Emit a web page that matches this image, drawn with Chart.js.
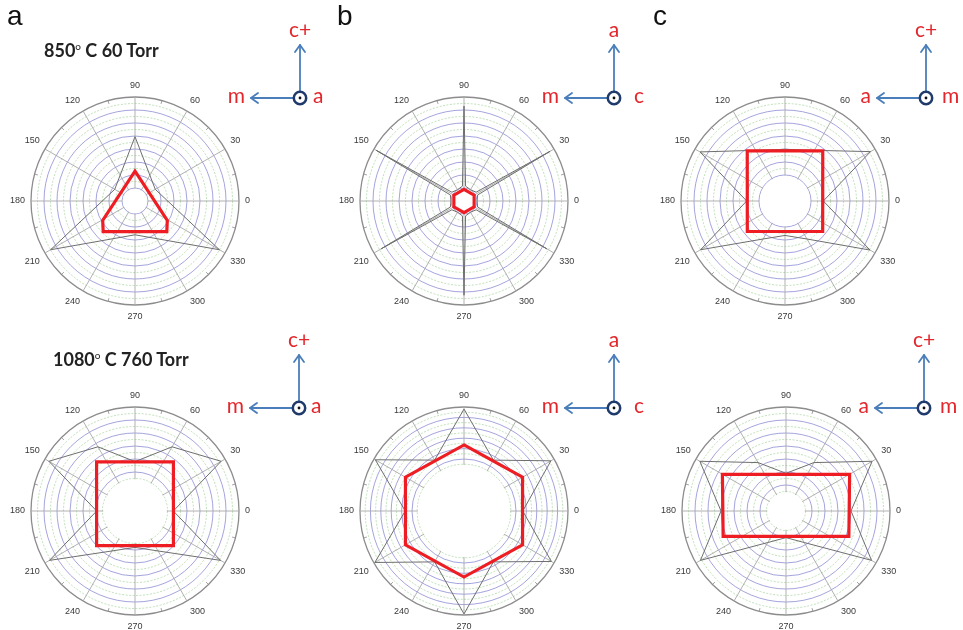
<!DOCTYPE html>
<html>
<head>
<meta charset="utf-8">
<script src="https://cdn.jsdelivr.net/npm/chart.js@4.4.1/dist/chart.umd.min.js"></script>
<style>
  html, body { margin: 0; padding: 0; background: #fff; }
  body { position: relative; width: 963px; height: 630px; overflow: hidden; }
  canvas.polar { position: absolute; }
  svg#overlay { position: absolute; left: 0; top: 0; z-index: 5; }
</style>
</head>
<body>
<svg id="overlay" width="963" height="630" xmlns="http://www.w3.org/2000/svg">
  <g font-family="'Liberation Sans', Arial, sans-serif" font-size="28" fill="#111">
    <text x="7" y="25">a</text>
    <text x="337" y="25">b</text>
    <text x="653" y="25">c</text>
  </g>
  <g font-family="Lato, 'Open Sans', sans-serif" font-size="18" font-weight="700" fill="#222">
    <text x="44" y="57">850<tspan dy="-7" font-size="10" font-weight="400">o</tspan><tspan dy="7"> C 60 Torr</tspan></text>
    <text x="53" y="366">1080<tspan dy="-7" font-size="10" font-weight="400">o</tspan><tspan dy="7"> C 760 Torr</tspan></text>
  </g>
  <g id="keys"></g>
</svg>

<script>
// ---- angular grid: one slot per degree, labelled every 30 degrees ----
const DEGREES = 360;
const angleTickStep = 30;

// ---- row 1: 850 C, 60 Torr ----
// (a) c+ up, m left, a out of plane
const gammaA850Angles = [90, 150, 210, 270, 330, 30];
const gammaA850Radii  = [9.9, 3.6, 15.0, 5.2, 15.0, 3.6];
const shapeA850Angles = [90, 211, 224, 316, 329];
const shapeA850Radii  = [4.6, 5.8, 6.8, 6.8, 5.8];

// (b) a up, m left, c out of plane
const gammaB850Angles = [0, 24, 30, 36, 60, 84, 90, 96, 120, 144, 150, 156,
                         180, 204, 210, 216, 240, 264, 270, 276, 300, 324, 330, 336];
const gammaB850Radii  = [2.0, 2.3, 15.3, 2.3, 2.0, 2.3, 14.6, 2.3, 2.0, 2.3, 15.6, 2.3,
                         2.0, 2.3, 14.7, 2.3, 2.0, 2.3, 14.5, 2.3, 2.0, 2.3, 14.7, 2.3];
const shapeB850Angles = [30, 90, 150, 210, 270, 330];
const shapeB850Radii  = [1.8, 1.8, 1.8, 1.8, 1.8, 1.8];

// (c) c+ up, a left, m out of plane
const gammaC850Angles = [0, 30, 60, 90, 120, 150, 180, 210, 240, 270, 300, 330];
const gammaC850Radii  = [5.9, 15.2, 9.0, 7.95, 9.0, 15.1, 5.9, 15.0, 6.75, 5.3, 6.75, 15.1];
const shapeC850Angles = [53, 127, 219, 321];
const shapeC850Radii  = [9.65, 9.65, 7.46, 7.46];

// ---- row 2: 1080 C, 760 Torr ----
const gammaA1080Angles = [0, 30, 60, 90, 120, 150, 180, 210, 240, 270, 300, 330];
const gammaA1080Radii  = [5.9, 15.3, 11.4, 7.6, 11.4, 15.3, 5.9, 15.2, 7.1, 5.6, 7.1, 15.2];
const shapeA1080Angles = [52, 128, 222, 318];
const shapeA1080Radii  = [9.6, 9.6, 7.95, 7.95];

const gammaB1080Angles = [0, 30, 60, 90, 120, 150, 180, 210, 240, 270, 300, 330];
const gammaB1080Radii  = [11.3, 19.3, 11.3, 19.6, 11.3, 19.7, 11.3, 19.8, 11.3, 19.8, 11.3, 19.4];
const shapeB1080Angles = [30, 90, 150, 210, 270, 330];
const shapeB1080Radii  = [13.0, 12.7, 13.0, 13.0, 12.7, 13.0];

const gammaC1080Angles = [0, 30, 60, 90, 120, 150, 180, 210, 240, 270, 300, 330];
const gammaC1080Radii  = [10.0, 15.3, 8.6, 5.8, 8.6, 15.3, 10.0, 15.2, 5.6, 4.1, 5.6, 15.2];
const shapeC1080Angles = [30, 150, 202, 338];
const shapeC1080Radii  = [11.3, 11.3, 10.43, 10.43];

// ---- panel layout ----
const SIZE = 300;       // canvas box per polar plot
const RADIUS = 104;     // outer circle radius in px
const panels = [
  { cx: 135, cy: 201, rMax: 16, hole: 2, gamma: [gammaA850Angles, gammaA850Radii],  shape: [shapeA850Angles, shapeA850Radii] },
  { cx: 464, cy: 201, rMax: 16, hole: 2, gamma: [gammaB850Angles, gammaB850Radii],  shape: [shapeB850Angles, shapeB850Radii] },
  { cx: 785, cy: 201, rMax: 16, hole: 4, gamma: [gammaC850Angles, gammaC850Radii],  shape: [shapeC850Angles, shapeC850Radii] },
  { cx: 135, cy: 511, rMax: 16, hole: 5, gamma: [gammaA1080Angles, gammaA1080Radii], shape: [shapeA1080Angles, shapeA1080Radii] },
  { cx: 464, cy: 511, rMax: 20, hole: 9, gamma: [gammaB1080Angles, gammaB1080Radii], shape: [shapeB1080Angles, shapeB1080Radii] },
  { cx: 786, cy: 511, rMax: 16, hole: 3, gamma: [gammaC1080Angles, gammaC1080Radii], shape: [shapeC1080Angles, shapeC1080Radii] }
];

// orientation keys drawn next to each plot
const orientationKeys = [
  { cx: 300, cy: 98,  up: 'c+', left: 'm', right: 'a', rdx: 13 },
  { cx: 614, cy: 98,  up: 'a',  left: 'm', right: 'c', rdx: 20 },
  { cx: 926, cy: 98,  up: 'c+', left: 'a', right: 'm', rdx: 16 },
  { cx: 299, cy: 408, up: 'c+', left: 'm', right: 'a', rdx: 12 },
  { cx: 614, cy: 408, up: 'a',  left: 'm', right: 'c', rdx: 20 },
  { cx: 924, cy: 408, up: 'c+', left: 'a', right: 'm', rdx: 16 }
];

// slot i sits i degrees clockwise from the top, i.e. at polar angle 90 - i
const slotOf = deg => (((90 - deg) % 360) + 360) % 360;
const angleLabels = Array.from({ length: DEGREES }, (_, i) => {
  const d = (90 - i + 360) % 360;
  return d % angleTickStep === 0 ? String(d) : '';
});
function toSlots(angles, radii) {
  const out = new Array(DEGREES).fill(null);
  angles.forEach((a, k) => { out[slotOf(a)] = radii[k]; });
  return out;
}

const RING_BLUE = 'rgba(120,120,205,0.75)';
const RING_GREEN = 'rgba(160,210,150,0.75)';
const RIM = '#8c8c8c';
const SPOKE = '#a8a8a8';

// blank the inner disc and add rim ticks every 15 degrees
const innerDiscPlugin = {
  id: 'innerDisc',
  beforeDatasetsDraw(chart, args, opts) {
    const s = chart.scales.r;
    const ctx = chart.ctx;
    const rHole = s.getDistanceFromCenterForValue(opts.hole);
    ctx.save();
    ctx.fillStyle = '#fff';
    ctx.beginPath();
    ctx.arc(s.xCenter, s.yCenter, Math.max(rHole - 0.7, 0), 0, Math.PI * 2);
    ctx.fill();
    ctx.strokeStyle = RIM;
    ctx.lineWidth = 0.8;
    const rOut = s.drawingArea;
    for (let i = 0; i < DEGREES; i += 15) {
      if (i % 30 === 0) continue;
      const p1 = s.getPointPosition(i, rOut);
      const p2 = s.getPointPosition(i, rOut - 3.5);
      ctx.beginPath();
      ctx.moveTo(p1.x, p1.y);
      ctx.lineTo(p2.x, p2.y);
      ctx.stroke();
    }
    ctx.restore();
  }
};

function makePanel(p) {
  const canvas = document.createElement('canvas');
  canvas.className = 'polar';
  canvas.width = SIZE;
  canvas.height = SIZE;
  canvas.style.left = (p.cx - SIZE / 2) + 'px';
  canvas.style.top = (p.cy - SIZE / 2) + 'px';
  document.body.appendChild(canvas);

  const pad = { left: 0, right: 0, top: 0, bottom: 0 };
  const chart = new Chart(canvas, {
    type: 'radar',
    data: {
      labels: angleLabels,
      datasets: [
        {
          data: toSlots(p.shape[0], p.shape[1]),
          borderColor: '#ee1d23', borderWidth: 3.2, borderJoinStyle: 'miter',
          pointRadius: 0, pointHoverRadius: 0, fill: false, spanGaps: true, tension: 0
        },
        {
          data: toSlots(p.gamma[0], p.gamma[1]),
          borderColor: '#6e6e6e', borderWidth: 1,
          pointRadius: 0, pointHoverRadius: 0, fill: false, spanGaps: true, tension: 0
        }
      ]
    },
    options: {
      responsive: false,
      animation: false,
      events: [],
      layout: { padding: { ...pad } },
      plugins: {
        legend: { display: false },
        tooltip: { enabled: false },
        innerDisc: { hole: p.hole }
      },
      scales: {
        r: {
          min: 0,
          max: p.rMax,
          startAngle: 0,
          ticks: { display: false, stepSize: 1 },
          grid: {
            circular: true,
            color: ctx => {
              const v = ctx.tick.value;
              if (v === p.rMax) return RIM;
              return v % 2 ? RING_GREEN : RING_BLUE;
            },
            lineWidth: ctx => {
              const v = ctx.tick.value;
              if (v === p.rMax) return 1.3;
              return v < p.hole ? 0 : 0.9;
            }
          },
          border: {
            dash: ctx => (ctx.tick && ctx.tick.value % 2 && ctx.tick.value !== p.rMax) ? [2, 1.5] : []
          },
          angleLines: {
            color: SPOKE,
            lineWidth: ctx => (ctx.index % angleTickStep === 0 ? 0.9 : 0)
          },
          pointLabels: {
            display: true,
            padding: 6,
            color: '#3a3a3a',
            font: { size: 9, family: "'Liberation Sans', Arial, sans-serif" }
          }
        }
      }
    },
    plugins: [innerDiscPlugin]
  });

  // size the plot so the outer circle has the wanted radius and centre
  for (let k = 0; k < 6; k++) {
    const s = chart.scales.r;
    const dr = s.drawingArea - RADIUS;
    const dx = s.xCenter - SIZE / 2;
    const dy = s.yCenter - SIZE / 2;
    if (dr === 0 && Math.abs(dx) < 1 && Math.abs(dy) < 1) break;
    pad.left += dr + dx * -1;
    pad.right += dr + dx;
    pad.top += dr - dy;
    pad.bottom += dr + dy;
    chart.options.layout.padding = { ...pad };
    chart.update('none');
  }
  return chart;
}

panels.forEach(makePanel);

// orientation keys: arrows, out-of-plane marker and axis names
const NS = 'http://www.w3.org/2000/svg';
const keysGroup = document.getElementById('keys');
function el(tag, attrs, text) {
  const e = document.createElementNS(NS, tag);
  Object.entries(attrs).forEach(([k, v]) => e.setAttribute(k, v));
  if (text !== undefined) e.textContent = text;
  keysGroup.appendChild(e);
  return e;
}
const ARROW = '#4a7ebb';
const LABEL_RED = '#e3262b';
orientationKeys.forEach(k => {
  const { cx, cy } = k;
  const lineAttrs = { stroke: ARROW, 'stroke-width': 1.8, fill: 'none', 'stroke-linecap': 'round', 'stroke-linejoin': 'round' };
  el('line', { x1: cx, y1: cy - 7, x2: cx, y2: cy - 53, ...lineAttrs });
  el('polyline', { points: `${cx - 5},${cy - 46} ${cx},${cy - 53} ${cx + 5},${cy - 46}`, ...lineAttrs });
  el('line', { x1: cx - 7, y1: cy, x2: cx - 49, y2: cy, ...lineAttrs });
  el('polyline', { points: `${cx - 42},${cy - 5} ${cx - 49},${cy} ${cx - 42},${cy + 5}`, ...lineAttrs });
  el('circle', { cx, cy, r: 6.2, fill: '#fff', stroke: '#1f3a6b', 'stroke-width': 2.5 });
  el('circle', { cx, cy, r: 1.4, fill: '#111' });
  const font = { 'font-family': "Lato, 'Open Sans', sans-serif", 'font-size': 21, fill: LABEL_RED };
  el('text', { x: cx, y: cy - 61, 'text-anchor': 'middle', ...font }, k.up);
  el('text', { x: cx - 55, y: cy + 5, 'text-anchor': 'end', ...font }, k.left);
  el('text', { x: cx + k.rdx, y: cy + 5, 'text-anchor': 'start', ...font }, k.right);
});
</script>
</body>
</html>
